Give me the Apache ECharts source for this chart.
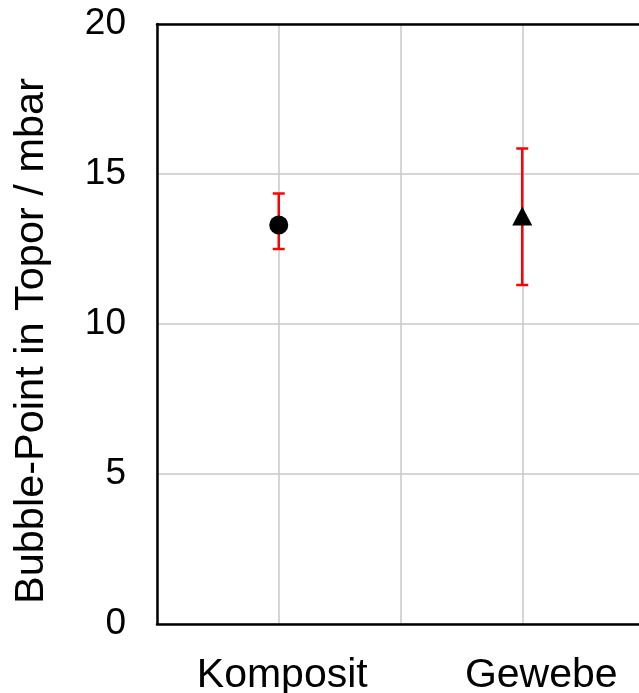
<!DOCTYPE html>
<html>
<head>
<meta charset="utf-8">
<script src="https://cdn.jsdelivr.net/npm/echarts@6/dist/echarts.min.js"></script>
<style>
  html, body { margin: 0; padding: 0; background: #fff; }
  #chart { width: 639px; height: 693px; }
</style>
</head>
<body>
<div id="chart"></div>
<script>
// Bubble-point measurements: mean with min/max spread per material
const categories = ['Komposit', 'Gewebe'];
const slots = [1, 3];            // position of each material on the 0..4 x range
const means = [13.3, 13.6];
const lows = [12.5, 11.3];
const highs = [14.35, 15.85];
const markers = ['circle', 'triangle'];
const yTicks = [0, 5, 10, 15, 20];

const FONT = "'Liberation Sans', Arial, sans-serif";
const chart = echarts.init(document.getElementById('chart'));

const errorData = categories.map((c, i) => [slots[i], lows[i], highs[i]]);

const markerSeries = categories.map((c, i) => ({
  type: 'scatter',
  name: c,
  symbol: markers[i],
  symbolSize: markers[i] === 'circle' ? 19 : [20, 19],
  itemStyle: { color: '#000', opacity: 1 },
  z: 5,
  data: [[slots[i], means[i]]]
}));

chart.setOption({
  animation: false,
  grid: {
    left: 157, right: -5, top: 24, bottom: 69,
    outerBoundsMode: 'none',
    containLabel: false
  },
  xAxis: [{
    type: 'value', min: 0, max: 4, interval: 1,
    axisLine: { show: true, lineStyle: { color: '#000', width: 2.5 } },
    axisTick: { show: false },
    splitLine: { show: true, lineStyle: { color: '#c8c8c8', width: 1.5 } },
    axisLabel: {
      margin: 31,
      color: '#000',
      fontFamily: FONT,
      fontSize: 41,
      formatter: v => {
        const i = slots.indexOf(v);
        return i < 0 ? '' : '{c' + i + '|' + categories[i] + '}';
      },
      rich: {
        c0: { fontFamily: FONT, fontSize: 41, color: '#000', padding: [0, 0, 0, 7] },
        c1: { fontFamily: FONT, fontSize: 41, color: '#000', padding: [0, 0, 0, 38] }
      }
    }
  }, {
    // frame line along the top of the plot
    type: 'value', min: 0, max: 4, position: 'top',
    axisLine: { show: true, lineStyle: { color: '#000', width: 2.5 } },
    axisTick: { show: false },
    axisLabel: { show: false },
    splitLine: { show: false }
  }],
  yAxis: {
    type: 'value', min: yTicks[0], max: yTicks[yTicks.length - 1], interval: 5,
    name: 'Bubble-Point in Topor / mbar',
    nameLocation: 'middle',
    nameRotate: 90,
    nameGap: 104,
    nameTextStyle: { color: '#000', fontFamily: FONT, fontSize: 41.5, padding: [0, 34, 0, 0] },
    axisLine: { show: true, lineStyle: { color: '#000', width: 2.5 } },
    axisTick: { show: false },
    splitLine: { show: true, lineStyle: { color: '#c8c8c8', width: 1.5 } },
    axisLabel: { margin: 31, color: '#000', fontFamily: FONT, fontSize: 37 }
  },
  series: [
    {
      type: 'custom',
      name: 'range',
      z: 3,
      data: errorData,
      renderItem: (params, api) => {
        const x = api.value(0);
        const lo = api.coord([x, api.value(1)]);
        const hi = api.coord([x, api.value(2)]);
        const cap = 6;
        const style = { stroke: '#ff0000', lineWidth: 2.5 };
        return {
          type: 'group',
          children: [
            { type: 'line', shape: { x1: lo[0], y1: lo[1], x2: hi[0], y2: hi[1] }, style },
            { type: 'line', shape: { x1: hi[0] - cap, y1: hi[1], x2: hi[0] + cap, y2: hi[1] }, style },
            { type: 'line', shape: { x1: lo[0] - cap, y1: lo[1], x2: lo[0] + cap, y2: lo[1] }, style }
          ]
        };
      }
    },
    ...markerSeries
  ]
});
</script>
</body>
</html>
